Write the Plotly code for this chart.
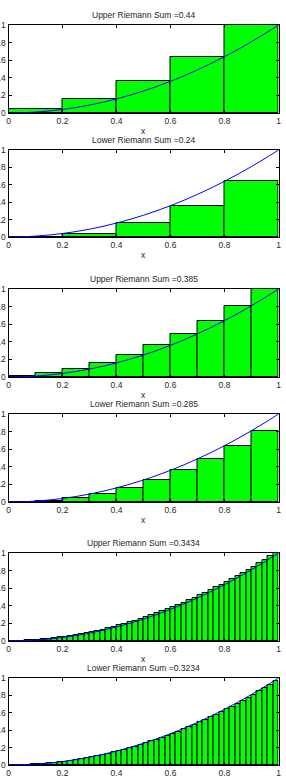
import plotly.graph_objects as go
import numpy as np

# ---- data ----
curve_x = [0, 0.05, 0.1, 0.15, 0.2, 0.25, 0.3, 0.35, 0.4, 0.45, 0.5, 0.55, 0.6, 0.65, 0.7, 0.75, 0.8, 0.85, 0.9, 0.95, 1.0]
curve_y = [0, 0.0025, 0.01, 0.0225, 0.04, 0.0625, 0.09, 0.1225, 0.16, 0.2025, 0.25, 0.3025, 0.36, 0.4225, 0.49, 0.5625, 0.64, 0.7225, 0.81, 0.9025, 1.0]

edges5 = [0, 0.2, 0.4, 0.6, 0.8, 1.0]
upper5 = [0.04, 0.16, 0.36, 0.64, 1.0]
lower5 = [0, 0.04, 0.16, 0.36, 0.64]

edges10 = [0, 0.1, 0.2, 0.3, 0.4, 0.5, 0.6, 0.7, 0.8, 0.9, 1.0]
upper10 = [0.01, 0.04, 0.09, 0.16, 0.25, 0.36, 0.49, 0.64, 0.81, 1.0]
lower10 = [0, 0.01, 0.04, 0.09, 0.16, 0.25, 0.36, 0.49, 0.64, 0.81]

edges50 = [0, 0.02, 0.04, 0.06, 0.08, 0.1, 0.12, 0.14, 0.16, 0.18, 0.2,
           0.22, 0.24, 0.26, 0.28, 0.3, 0.32, 0.34, 0.36, 0.38, 0.4,
           0.42, 0.44, 0.46, 0.48, 0.5, 0.52, 0.54, 0.56, 0.58, 0.6,
           0.62, 0.64, 0.66, 0.68, 0.7, 0.72, 0.74, 0.76, 0.78, 0.8,
           0.82, 0.84, 0.86, 0.88, 0.9, 0.92, 0.94, 0.96, 0.98, 1.0]
upper50 = [0.0004, 0.0016, 0.0036, 0.0064, 0.01, 0.0144, 0.0196, 0.0256, 0.0324, 0.04,
           0.0484, 0.0576, 0.0676, 0.0784, 0.09, 0.1024, 0.1156, 0.1296, 0.1444, 0.16,
           0.1764, 0.1936, 0.2116, 0.2304, 0.25, 0.2704, 0.2916, 0.3136, 0.3364, 0.36,
           0.3844, 0.4096, 0.4356, 0.4624, 0.49, 0.5184, 0.5476, 0.5776, 0.6084, 0.64,
           0.6724, 0.7056, 0.7396, 0.7744, 0.81, 0.8464, 0.8836, 0.9216, 0.9604, 1.0]
lower50 = [0, 0.0004, 0.0016, 0.0036, 0.0064, 0.01, 0.0144, 0.0196, 0.0256, 0.0324,
           0.04, 0.0484, 0.0576, 0.0676, 0.0784, 0.09, 0.1024, 0.1156, 0.1296, 0.1444,
           0.16, 0.1764, 0.1936, 0.2116, 0.2304, 0.25, 0.2704, 0.2916, 0.3136, 0.3364,
           0.36, 0.3844, 0.4096, 0.4356, 0.4624, 0.49, 0.5184, 0.5476, 0.5776, 0.6084,
           0.64, 0.6724, 0.7056, 0.7396, 0.7744, 0.81, 0.8464, 0.8836, 0.9216, 0.9604]

titles = ["Upper Riemann Sum =0.44", "Lower Riemann Sum =0.24",
          "Upper Riemann Sum =0.385", "Lower Riemann Sum =0.285",
          "Upper Riemann Sum =0.3434", "Lower Riemann Sum =0.3234"]
tick_vals = [0, 0.2, 0.4, 0.6, 0.8, 1]
tick_text = ["0", "0.2", "0.4", "0.6", "0.8", "1"]

panels = [(edges5, upper5), (edges5, lower5), (edges10, upper10),
          (edges10, lower10), (edges50, upper50), (edges50, lower50)]

# ---- layout geometry (pixels) ----
W, H = 286, 781
x_left, x_right = 8.5, 278.5
tops = [25, 150, 289, 414, 553, 678]
bottoms = [113, 237, 377, 502, 641, 765]

FONT = "Liberation Sans, Arial, sans-serif"
TXT = "#262626"
FS = 8.5

fig = go.Figure()
layout = dict(width=W, height=H, margin=dict(l=0, r=0, t=0, b=0, autoexpand=False),
              paper_bgcolor="white", plot_bgcolor="white", showlegend=False,
              bargap=0, font=dict(family=FONT, size=FS, color=TXT))
annotations = []

for i, ((edges, heights), title) in enumerate(zip(panels, titles)):
    k = i + 1
    xa = "x" if k == 1 else f"x{k}"
    ya = "y" if k == 1 else f"y{k}"
    e = np.array(edges)
    centers = (e[:-1] + e[1:]) / 2
    widths = np.diff(e)
    fig.add_trace(go.Bar(x=centers, y=heights, width=widths, base=0,
                         marker=dict(color="#00ff00", line=dict(color="black", width=1)),
                         xaxis=xa, yaxis=ya, hoverinfo="skip", cliponaxis=True))
    fig.add_trace(go.Scatter(x=curve_x, y=curve_y, mode="lines",
                             line=dict(color="#0000ff", width=1, shape="spline"),
                             xaxis=xa, yaxis=ya, hoverinfo="skip"))
    ydom = [1 - bottoms[i] / H, 1 - tops[i] / H]
    xdom = [x_left / W, x_right / W]
    axis_common = dict(range=[0, 1], tickvals=tick_vals, ticktext=tick_text,
                       ticks="inside", ticklen=3, tickcolor="black", showline=True,
                       linecolor="black", linewidth=1, mirror="ticks",
                       showgrid=False, zeroline=False, fixedrange=True, automargin=False,
                       tickfont=dict(family=FONT, size=FS, color=TXT))
    layout["xaxis" if k == 1 else f"xaxis{k}"] = dict(domain=xdom, anchor=ya, **axis_common)
    layout["yaxis" if k == 1 else f"yaxis{k}"] = dict(domain=ydom, anchor=xa, **axis_common)
    cx = (x_left + x_right) / 2 / W
    annotations.append(dict(text=title, x=cx, y=1 - (tops[i] - 10) / H, xref="paper", yref="paper",
                            xanchor="center", yanchor="middle", showarrow=False,
                            font=dict(family=FONT, size=FS, color=TXT)))
    if k < 6:  # the last panel's axis label falls below the visible page
        annotations.append(dict(text="x", x=cx, y=1 - (bottoms[i] + 18) / H, xref="paper", yref="paper",
                                xanchor="center", yanchor="middle", showarrow=False,
                                font=dict(family=FONT, size=FS, color=TXT)))

layout["annotations"] = annotations
fig.update_layout(**layout)
fig.write_html("out.html")
